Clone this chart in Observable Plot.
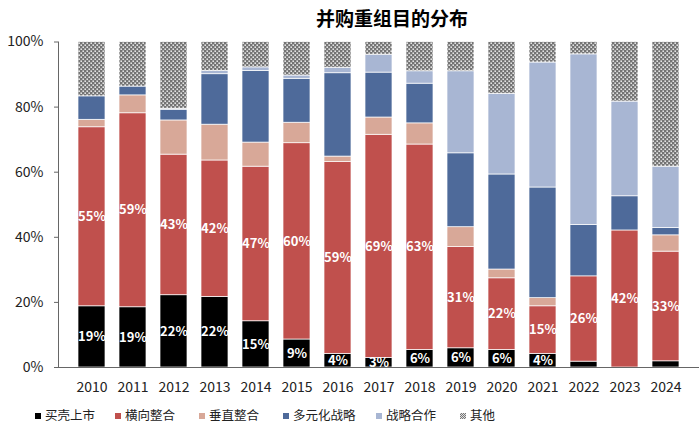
<!DOCTYPE html>
<html>
<head>
<meta charset="utf-8">
<script src="https://cdn.jsdelivr.net/npm/d3@7"></script>
<script src="https://cdn.jsdelivr.net/npm/@observablehq/plot@0.6"></script>
<style>
  body { margin: 0; background: #fff; font-family: "Noto Sans CJK SC", "Noto Sans", sans-serif; }
  #wrap { position: relative; width: 700px; height: 432px; overflow: hidden; }
  #title { position: absolute; top: 7px; left: 392px; transform: translateX(-50%); font-size: 19px; font-weight: bold; line-height: 22px; color: #000; white-space: nowrap; }
  #chart { position: absolute; top: 36px; left: 0; }
  #chart svg { overflow: visible; }
  #legend { position: absolute; top: 405px; left: 0; width: 700px; height: 22px; font-size: 12.5px; color: #222; }
  .item { position: absolute; top: 0; line-height: 20px; white-space: nowrap; }
  .sw { display: inline-block; width: 6px; height: 6px; margin-right: 4px; vertical-align: 1px; }
</style>
</head>
<body>
<div id="wrap">
  <div id="title">并购重组目的分布</div>
  <div id="chart"></div>
  <div id="legend"></div>
</div>
<script>
const years = ["2010","2011","2012","2013","2014","2015","2016","2017","2018","2019","2020","2021","2022","2023","2024"];
const seriesNames = ["买壳上市","横向整合","垂直整合","多元化战略","战略合作","其他"];
const seriesColors = ["#000000","#c0504d","#d8a898","#4e6a9a","#a8b6d3","url(#otherPat)"];

const shell      = [18.8, 18.5, 22.2, 21.7, 14.2, 8.6, 4.2, 2.9, 5.4, 5.9, 5.4, 4.2, 1.8, 0, 1.9];
const horizontal = [55.0, 59.6, 43.2, 41.9, 47.5, 60.3, 58.9, 68.6, 63.1, 31.1, 22.0, 14.6, 26.2, 42.1, 33.7];
const vertical   = [2.3, 5.5, 10.5, 11.0, 7.4, 6.3, 1.7, 5.3, 6.5, 6.1, 2.7, 2.5, 0, 0, 5.0];
const diversified= [7.2, 2.7, 3.3, 15.5, 22.0, 13.5, 25.6, 13.8, 12.2, 22.7, 29.2, 34.0, 15.8, 10.5, 2.3];
const strategic  = [0, 0, 0.3, 1.0, 1.1, 1.0, 1.7, 5.5, 3.8, 25.2, 24.8, 38.4, 52.4, 29.1, 18.8];
const other      = [16.7, 13.7, 20.5, 8.9, 7.8, 10.3, 7.9, 3.9, 9.0, 9.0, 15.9, 6.3, 3.8, 18.3, 38.3];

const shellLabels      = ["19%","19%","22%","22%","15%","9%","4%","3%","6%","6%","6%","4%","","",""];
const horizontalLabels = ["55%","59%","43%","42%","47%","60%","59%","69%","63%","31%","22%","15%","26%","42%","33%"];

const yTicks = [0, 20, 40, 60, 80, 100];

const seriesValues = [shell, horizontal, vertical, diversified, strategic, other];
const seriesLabels = [shellLabels, horizontalLabels, null, null, null, null];

const data = [];
seriesNames.forEach((s, si) => {
  years.forEach((yr, i) => {
    data.push({year: yr, series: s, value: seriesValues[si][i],
               label: seriesLabels[si] ? seriesLabels[si][i] : ""});
  });
});

const font = '"Noto Sans CJK SC", "Noto Sans", sans-serif';

const chart = Plot.plot({
  width: 700,
  height: 360,
  marginTop: 5.5,
  marginBottom: 29,
  marginLeft: 58,
  marginRight: 2,
  style: {fontFamily: font, fontSize: "14px", color: "#222", background: "white", overflow: "visible"},
  x: {domain: years, padding: 0.35, label: null},
  y: {domain: [0, 100], label: null},
  color: {domain: seriesNames, range: seriesColors},
  marks: [
    Plot.barY(data, {x: "year", y: "value", fill: "series", z: "series", order: seriesNames, stroke: "white", strokeWidth: 0.7}),
    Plot.text(data, Plot.stackY({x: "year", y: "value", z: "series", order: seriesNames, text: "label",
      fill: "white", fontWeight: "bold", fontSize: 13})),
    Plot.frame({anchor: "left", stroke: "#666"}),
    Plot.frame({anchor: "bottom", stroke: "#666"}),
    Plot.axisY({ticks: yTicks, tickFormat: d => d + "%", tickSize: 4, tickPadding: 11, fontSize: 14, stroke: "#666"}),
    Plot.axisX({tickSize: 0, tickPadding: 15, fontSize: 14})
  ]
});

// pattern definition for "其他"
const ns = "http://www.w3.org/2000/svg";
const defs = document.createElementNS(ns, "defs");
defs.innerHTML = `<pattern id="otherPat" patternUnits="userSpaceOnUse" width="4" height="4">
  <rect width="4" height="4" fill="#747474"></rect>
  <rect x="0.4" y="0.4" width="1.6" height="1.6" fill="#ffffff" opacity="0.8"></rect>
  <rect x="2.4" y="2.4" width="1.6" height="1.6" fill="#ffffff" opacity="0.8"></rect>
</pattern>`;
chart.insertBefore(defs, chart.firstChild);
document.getElementById("chart").appendChild(chart);

// legend
const legendX = [45, 125, 209, 293, 386, 470];
const legend = document.getElementById("legend");
seriesNames.forEach((s, i) => {
  const it = document.createElement("div");
  it.className = "item";
  it.style.left = (legendX[i] - 10) + "px";
  const sw = document.createElement("span");
  sw.className = "sw";
  if (i === 5) {
    sw.style.background = "repeating-conic-gradient(#777 0 25%, #ddd 0 50%) 0 0 / 2px 2px";
  } else {
    sw.style.background = seriesColors[i];
  }
  it.appendChild(sw);
  it.appendChild(document.createTextNode(s));
  legend.appendChild(it);
});
</script>
</body>
</html>
